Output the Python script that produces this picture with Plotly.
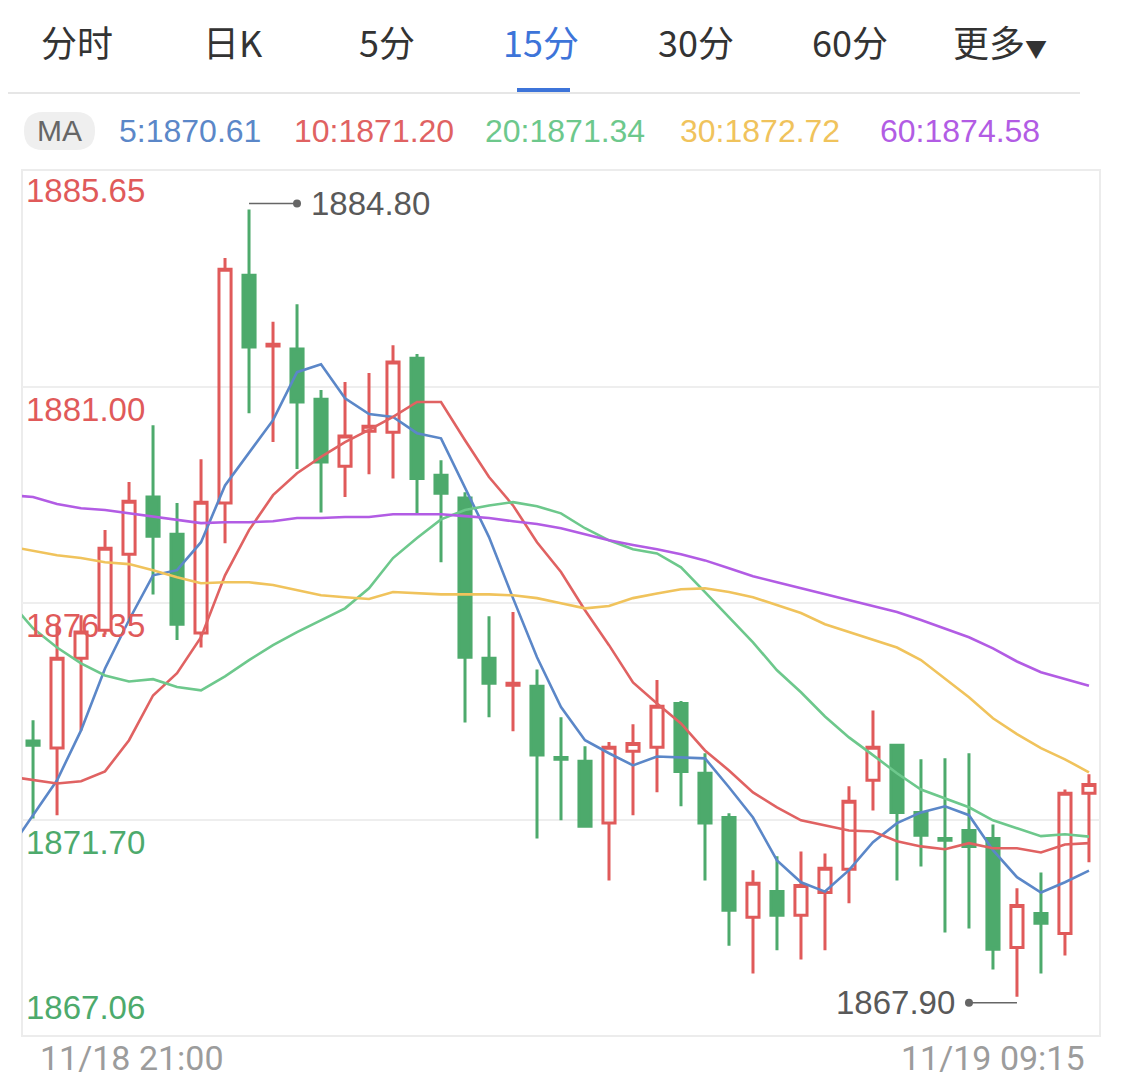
import plotly.graph_objects as go

# ---------------- data ----------------
time_labels = ["11/18 21:00", "11/19 09:15"]
tabs = ["分时", "日K", "5分", "15分", "30分", "60分", "更多"]
y_min, y_max = 1867.06, 1885.65
y_tick_labels = ["1885.65", "1881.00", "1876.35", "1871.70", "1867.06"]

candle_idx = list(range(1, 46))
open_ = [1873.39, 1873.24, 1875.17, 1875.77, 1877.40, 1878.63, 1877.83, 1875.71, 1878.50, 1883.39,
         1881.87, 1881.81, 1880.73, 1879.29, 1880.04, 1880.02, 1881.61, 1879.10, 1878.61, 1875.17,
         1874.59, 1874.57, 1873.04, 1872.96, 1871.63, 1873.17, 1873.26, 1874.20, 1872.70, 1871.75,
         1869.61, 1870.16, 1869.65, 1870.14, 1870.64, 1872.55, 1873.30, 1871.86, 1871.30, 1871.47,
         1871.30, 1868.96, 1869.69, 1869.26, 1872.27]
high = [1873.84, 1875.92, 1876.09, 1877.92, 1878.95, 1880.17, 1878.50, 1879.44, 1883.76, 1884.80,
        1882.39, 1882.77, 1880.93, 1881.10, 1881.29, 1881.89, 1881.70, 1879.42, 1878.73, 1876.07,
        1876.16, 1874.93, 1873.90, 1873.28, 1873.37, 1873.75, 1874.70, 1874.25, 1873.13, 1871.84,
        1870.62, 1870.92, 1871.02, 1870.98, 1872.42, 1874.05, 1873.32, 1873.00, 1873.02, 1873.13,
        1871.60, 1870.23, 1870.57, 1872.35, 1872.68]
low = [1871.73, 1871.80, 1873.62, 1875.68, 1875.99, 1876.54, 1875.56, 1875.40, 1877.64, 1880.43,
       1879.81, 1879.23, 1878.30, 1878.63, 1879.12, 1879.03, 1878.28, 1877.23, 1873.79, 1873.90,
       1873.60, 1871.30, 1871.69, 1871.54, 1870.40, 1871.80, 1872.29, 1871.99, 1870.40, 1869.00,
       1868.40, 1868.90, 1868.70, 1868.90, 1869.91, 1871.90, 1870.40, 1870.70, 1869.28, 1869.37,
       1868.49, 1867.90, 1868.40, 1868.79, 1870.79]
close = [1873.30, 1875.17, 1875.73, 1877.53, 1878.54, 1877.79, 1875.90, 1878.52, 1883.52, 1881.85,
         1881.91, 1880.67, 1879.38, 1879.94, 1880.15, 1881.53, 1879.03, 1878.71, 1875.19, 1874.63,
         1874.63, 1873.09, 1873.00, 1871.56, 1873.26, 1873.34, 1874.14, 1872.74, 1871.63, 1869.76,
         1870.34, 1869.65, 1870.29, 1870.66, 1872.10, 1873.26, 1871.86, 1871.37, 1871.26, 1871.13,
         1868.92, 1869.86, 1869.48, 1872.27, 1872.46]

# moving averages (index 0 = the bar just before the visible window)
ma_idx = list(range(0, 46))
ma5 = [1871.05, 1871.80, 1872.55, 1873.62, 1874.95, 1875.99, 1876.95, 1877.06, 1877.66, 1878.88,
       1879.57, 1880.28, 1881.31, 1881.48, 1880.75, 1880.41, 1880.35, 1880.00, 1879.89, 1878.84,
       1877.77, 1876.46, 1875.19, 1874.12, 1873.41, 1873.13, 1872.87, 1873.06, 1873.04, 1873.02,
       1872.40, 1871.75, 1870.83, 1870.36, 1870.16, 1870.62, 1871.22, 1871.63, 1871.86, 1871.99,
       1871.80, 1871.05, 1870.47, 1870.14, 1870.36, 1870.61]
ma10 = [1872.63, 1872.55, 1872.48, 1872.53, 1872.74, 1873.41, 1874.37, 1874.85, 1875.62, 1876.95,
        1877.92, 1878.67, 1879.14, 1879.49, 1879.81, 1880.07, 1880.35, 1880.67, 1880.67, 1879.85,
        1879.06, 1878.45, 1877.66, 1877.02, 1876.20, 1875.45, 1874.65, 1874.20, 1873.77, 1873.19,
        1872.76, 1872.29, 1871.97, 1871.69, 1871.58, 1871.47, 1871.45, 1871.24, 1871.13, 1871.07,
        1871.20, 1871.09, 1871.09, 1871.00, 1871.17, 1871.20]
ma20 = [1876.41, 1875.81, 1875.40, 1875.06, 1874.80, 1874.67, 1874.72, 1874.55, 1874.48, 1874.78,
        1875.13, 1875.45, 1875.73, 1875.99, 1876.24, 1876.67, 1877.32, 1877.75, 1878.15, 1878.35,
        1878.45, 1878.52, 1878.43, 1878.28, 1877.96, 1877.70, 1877.51, 1877.42, 1877.12, 1876.59,
        1876.05, 1875.51, 1874.91, 1874.44, 1873.92, 1873.47, 1873.09, 1872.70, 1872.35, 1872.16,
        1871.97, 1871.69, 1871.52, 1871.35, 1871.39, 1871.34]
ma30 = [1877.57, 1877.47, 1877.38, 1877.32, 1877.23, 1877.19, 1877.06, 1876.91, 1876.78, 1876.80,
        1876.80, 1876.74, 1876.63, 1876.52, 1876.48, 1876.44, 1876.59, 1876.56, 1876.54, 1876.54,
        1876.54, 1876.52, 1876.46, 1876.35, 1876.24, 1876.29, 1876.46, 1876.56, 1876.65, 1876.67,
        1876.59, 1876.48, 1876.31, 1876.14, 1875.90, 1875.73, 1875.56, 1875.40, 1875.13, 1874.74,
        1874.33, 1873.88, 1873.54, 1873.24, 1873.00, 1872.72]
ma60 = [1878.67, 1878.63, 1878.48, 1878.39, 1878.35, 1878.28, 1878.20, 1878.13, 1878.07, 1878.09,
        1878.09, 1878.11, 1878.18, 1878.18, 1878.20, 1878.20, 1878.26, 1878.26, 1878.26, 1878.22,
        1878.18, 1878.11, 1878.05, 1877.96, 1877.83, 1877.70, 1877.60, 1877.51, 1877.40, 1877.27,
        1877.10, 1876.93, 1876.80, 1876.67, 1876.54, 1876.41, 1876.29, 1876.16, 1875.99, 1875.81,
        1875.62, 1875.38, 1875.10, 1874.87, 1874.72, 1874.58]
ma_periods = [5, 10, 20, 30, 60]

# ---------------- styles ----------------
OFF = 8  # page body margin of the html page
W, H = 1125 - OFF, 1090 - OFF
ML, MT = 22 - OFF, 170 - OFF
MR = W - (1100 - OFF)
MB = H - (1036 - OFF)
PW, PH = W - ML - MR, H - MT - MB


def px(x):
    return (x - OFF - ML) / PW


def py(y):
    return (H - MB - (y - OFF)) / PH


RED = "#E05A5A"
GREEN = "#4DAA6C"
ma_colors = ["#5B87C8", "#E06262", "#6DC88C", "#F0C35C", "#B25CE4"]
LATIN = "Liberation Sans, Arial, sans-serif"
CJK = "Noto Sans CJK SC, sans-serif"

fig = go.Figure()

for xs, ys, col in zip([ma_idx] * 5, [ma5, ma10, ma20, ma30, ma60], ma_colors):
    fig.add_trace(go.Scatter(x=xs, y=ys, mode="lines", line=dict(color=col, width=2.6),
                             hoverinfo="skip", showlegend=False))

fig.add_trace(go.Candlestick(
    x=candle_idx, open=open_, high=high, low=low, close=close,
    increasing=dict(line=dict(color=RED, width=3), fillcolor="rgba(0,0,0,0)"),
    decreasing=dict(line=dict(color=GREEN, width=3), fillcolor=GREEN),
    whiskerwidth=0, hoverinfo="skip", showlegend=False))

annotations = []
shapes = []

# y labels
step = (y_max - y_min) / 4
for i, lab in enumerate(y_tick_labels):
    val = y_max - i * step
    col = RED if i < 3 else GREEN
    if i < 4:
        annotations.append(dict(x=0, xref="paper", xanchor="left", xshift=2, y=val, yref="y",
                                yanchor="top", yshift=-2 if i > 0 else 0, text=lab, showarrow=False,
                                font=dict(family=LATIN, size=33, color=col)))
    else:
        annotations.append(dict(x=0, xref="paper", xanchor="left", xshift=2, y=val, yref="y",
                                yanchor="bottom", yshift=8, text=lab, showarrow=False,
                                font=dict(family=LATIN, size=33, color=col)))

# max / min markers
imax = max(range(len(high)), key=lambda k: high[k])
imin = min(range(len(low)), key=lambda k: low[k])
xh = candle_idx[imax]
xl = candle_idx[imin]
shapes.append(dict(type="line", xref="x", yref="y", x0=xh, x1=xh + 2, ysizemode="pixel",
                   yanchor=high[imax], y0=6, y1=6, line=dict(color="#666", width=1.5)))
shapes.append(dict(type="circle", xref="x", yref="y", xsizemode="pixel", ysizemode="pixel",
                   xanchor=xh + 2, yanchor=high[imax], x0=-4, x1=4, y0=2, y1=10,
                   fillcolor="#666", line=dict(width=0)))
annotations.append(dict(x=xh + 2, y=high[imax], xref="x", yref="y", xanchor="left", xshift=12,
                        yshift=6, text=f"{high[imax]:.2f}", showarrow=False,
                        font=dict(family=LATIN, size=33, color="#595959")))
shapes.append(dict(type="line", xref="x", yref="y", x0=xl - 2, x1=xl, ysizemode="pixel",
                   yanchor=low[imin], y0=-6, y1=-6, line=dict(color="#666", width=1.5)))
shapes.append(dict(type="circle", xref="x", yref="y", xsizemode="pixel", ysizemode="pixel",
                   xanchor=xl - 2, yanchor=low[imin], x0=-4, x1=4, y0=-10, y1=-2,
                   fillcolor="#666", line=dict(width=0)))
annotations.append(dict(x=xl - 2, y=low[imin], xref="x", yref="y", xanchor="right", xshift=-12,
                        yshift=-6, text=f"{low[imin]:.2f}", showarrow=False,
                        font=dict(family=LATIN, size=33, color="#595959")))

# time labels
annotations.append(dict(x=px(38), y=py(1058), xref="paper", yref="paper", xanchor="left",
                        yanchor="middle", text=time_labels[0], showarrow=False,
                        font=dict(family="Roboto, sans-serif", size=34, color="#9c9c9c")))
annotations.append(dict(x=px(1087), y=py(1058), xref="paper", yref="paper", xanchor="right",
                        yanchor="middle", text=time_labels[1], showarrow=False,
                        font=dict(family="Roboto, sans-serif", size=34, color="#9c9c9c")))

# tabs
tab_x = [77, 233, 387, 541, 696, 850, 1000]
for t, x in zip(tabs, tab_x):
    col = "#3D74D9" if t == "15分" else "#333333"
    txt = t if t != "更多" else "更多<span style='font-size:22px'>▼</span>"
    annotations.append(dict(x=px(x), y=py(41), xref="paper", yref="paper", xanchor="center",
                            yanchor="middle", text=txt, showarrow=False,
                            font=dict(family=CJK, size=36, color=col)))
shapes.append(dict(type="rect", xref="paper", yref="paper", x0=px(517), x1=px(570),
                   y0=py(92), y1=py(88), fillcolor="#3D74D9", line=dict(width=0)))
shapes.append(dict(type="line", xref="paper", yref="paper", x0=px(OFF), x1=px(1080),
                   y0=py(93), y1=py(93), line=dict(color="#e6e6e6", width=2)))

# MA row
shapes.append(dict(type="path", xref="paper", yref="paper",
                   path=(f"M {px(43)},{py(112)} L {px(76)},{py(112)} "
                         f"Q {px(95)},{py(112)} {px(95)},{py(131)} "
                         f"Q {px(95)},{py(150)} {px(76)},{py(150)} "
                         f"L {px(43)},{py(150)} Q {px(24)},{py(150)} {px(24)},{py(131)} "
                         f"Q {px(24)},{py(112)} {px(43)},{py(112)} Z"),
                   fillcolor="#efefef", line=dict(width=0)))
annotations.append(dict(x=px(59.5), y=py(131), xref="paper", yref="paper", xanchor="center",
                        yanchor="middle", text="MA", showarrow=False,
                        font=dict(family=LATIN, size=30, color="#666")))
ma_last = [ma5[-1], ma10[-1], ma20[-1], ma30[-1], ma60[-1]]
ma_text_x = [117, 292, 483, 678, 878]
for p, v, c, x in zip(ma_periods, ma_last, ma_colors, ma_text_x):
    annotations.append(dict(x=px(x), y=py(131), xref="paper", yref="paper", xanchor="left",
                            yanchor="middle", text=f"{p}:{v:.2f}", showarrow=False,
                            font=dict(family=LATIN, size=32, color=c)))

# plot border
shapes.append(dict(type="rect", xref="paper", yref="paper", x0=0, x1=1, y0=0, y1=1,
                   line=dict(color="#ececec", width=2), layer="below"))

fig.update_layout(
    width=W, height=H,
    margin=dict(l=ML, r=MR, t=MT, b=MB, pad=0),
    paper_bgcolor="white", plot_bgcolor="white",
    showlegend=False, hovermode=False,
    boxgap=0.28,
    xaxis=dict(range=[0.54, 45.46], showgrid=False, zeroline=False, showticklabels=False,
               showline=False, rangeslider=dict(visible=False), fixedrange=True),
    yaxis=dict(range=[y_min, y_max], tickvals=[y_max - k * step for k in range(1, 4)],
               showticklabels=False, showgrid=True, gridcolor="#eeeeee", gridwidth=1.5,
               zeroline=False, showline=False, fixedrange=True),
    annotations=annotations, shapes=shapes,
)

fig.write_html("out.html")
